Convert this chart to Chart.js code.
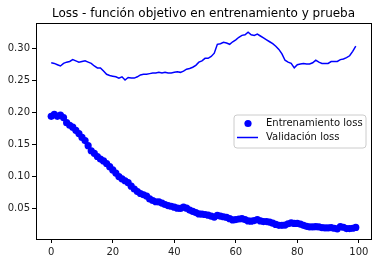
<!DOCTYPE html>
<html>
<head>
<meta charset="utf-8">
<script src="https://cdn.jsdelivr.net/npm/chart.js@4"></script>
<style>
  html, body { margin: 0; padding: 0; background: #fff; }
  #wrap { width: 381px; height: 264px; }
</style>
</head>
<body>
<div id="wrap"><canvas id="chart" width="381" height="264"></canvas></div>
<script>
const epochs = [];
for (let i = 0; i < 100; i++) epochs.push(i);

const trainLoss = [
  0.194, 0.197, 0.194, 0.196, 0.192, 0.184, 0.180, 0.177, 0.172, 0.167,
  0.161, 0.156, 0.148, 0.140, 0.136, 0.131, 0.127, 0.124, 0.120, 0.115,
  0.110, 0.105, 0.0995, 0.096, 0.093, 0.090, 0.0845, 0.080, 0.076, 0.073,
  0.071, 0.069, 0.0645, 0.062, 0.060, 0.0598, 0.058, 0.0557, 0.054, 0.053,
  0.0515, 0.050, 0.0495, 0.0515, 0.050, 0.047, 0.045, 0.043, 0.041, 0.0405,
  0.040, 0.039, 0.0375, 0.036, 0.0385, 0.0375, 0.0365, 0.0355, 0.0335, 0.0315,
  0.032, 0.033, 0.0335, 0.032, 0.030, 0.0295, 0.0305, 0.032, 0.030, 0.029,
  0.029, 0.028, 0.0265, 0.0245, 0.023, 0.023, 0.0235, 0.0255, 0.027, 0.026,
  0.026, 0.025, 0.023, 0.0215, 0.0205, 0.0205, 0.021, 0.0205, 0.0195, 0.019,
  0.019, 0.0195, 0.0185, 0.0175, 0.021, 0.020, 0.018, 0.018, 0.0185, 0.0198
];

const valLoss = [
  0.278, 0.277, 0.275, 0.273, 0.277, 0.279, 0.280, 0.283, 0.281, 0.279,
  0.280, 0.281, 0.279, 0.277, 0.273, 0.270, 0.270, 0.265, 0.260, 0.258,
  0.257, 0.256, 0.254, 0.256, 0.251, 0.255, 0.254, 0.254, 0.256, 0.259,
  0.260, 0.260, 0.261, 0.262, 0.262, 0.263, 0.262, 0.263, 0.262, 0.262,
  0.263, 0.264, 0.263, 0.265, 0.268, 0.269, 0.271, 0.274, 0.279, 0.281,
  0.285, 0.285, 0.288, 0.293, 0.307, 0.308, 0.310, 0.309, 0.307, 0.311,
  0.314, 0.318, 0.321, 0.322, 0.326, 0.322, 0.321, 0.323, 0.320, 0.317,
  0.314, 0.311, 0.308, 0.304, 0.299, 0.292, 0.282, 0.279, 0.277, 0.270,
  0.275, 0.276, 0.277, 0.276, 0.276, 0.278, 0.282, 0.279, 0.277, 0.277,
  0.277, 0.280, 0.280, 0.280, 0.283, 0.284, 0.286, 0.289, 0.296, 0.304
];

const xTicks = [0, 20, 40, 60, 80, 100];
const yTicks = [0.05, 0.10, 0.15, 0.20, 0.25, 0.30];
const title = "Loss - función objetivo en entrenamiento y prueba";

const FONT = "'DejaVu Sans', sans-serif";

// frame, title and legend drawn like matplotlib
const framePlugin = {
  id: "frame",
  afterDraw(chart) {
    const c = chart.ctx;
    const a = chart.chartArea;
    c.save();
    c.strokeStyle = "#000";
    c.lineWidth = 1;
    c.strokeRect(Math.round(a.left) + 0.5, Math.round(a.top) + 0.5,
                 Math.round(a.right - a.left), Math.round(a.bottom - a.top));

    c.fillStyle = "#000";
    c.font = "12px " + FONT;
    c.textAlign = "center";
    c.textBaseline = "middle";
    c.fillText(title, (a.left + a.right) / 2, 13.5);
    c.textAlign = "left";

    // legend
    const lx = 234, ly = 115, lw = 132, lh = 33, r = 3;
    c.beginPath();
    c.moveTo(lx + r, ly);
    c.arcTo(lx + lw, ly, lx + lw, ly + lh, r);
    c.arcTo(lx + lw, ly + lh, lx, ly + lh, r);
    c.arcTo(lx, ly + lh, lx, ly, r);
    c.arcTo(lx, ly, lx + lw, ly, r);
    c.closePath();
    c.fillStyle = "rgba(255,255,255,0.8)";
    c.fill();
    c.strokeStyle = "#cccccc";
    c.stroke();

    const ds = chart.data.datasets;
    c.fillStyle = "blue";
    c.beginPath();
    c.arc(248, 123.5, 3.6, 0, Math.PI * 2);
    c.fill();
    c.strokeStyle = "blue";
    c.lineWidth = 1.5;
    c.beginPath();
    c.moveTo(237, 137.5);
    c.lineTo(258, 137.5);
    c.stroke();

    c.fillStyle = "#111";
    c.font = "10px " + FONT;
    c.fillText(ds[0].label, 266, 123.5);
    c.fillText(ds[1].label, 266, 137.5);
    c.restore();
  }
};

const ctx = document.getElementById("chart");

new Chart(ctx, {
  type: "line",
  data: {
    datasets: [
      {
        label: "Entrenamiento loss",
        data: epochs.map((e, i) => ({ x: e, y: trainLoss[i] })),
        showLine: false,
        pointRadius: 3.6,
        pointBorderWidth: 0,
        pointBackgroundColor: "blue",
        borderColor: "blue"
      },
      {
        label: "Validación loss",
        data: epochs.map((e, i) => ({ x: e, y: valLoss[i] })),
        borderColor: "blue",
        borderWidth: 1.5,
        pointRadius: 0,
        tension: 0,
        fill: false
      }
    ]
  },
  options: {
    responsive: false,
    animation: false,
    layout: { padding: { left: 0, right: 10, top: 23, bottom: 0 } },
    plugins: {
      legend: { display: false },
      tooltip: { enabled: false },
      title: { display: false }
    },
    scales: {
      x: {
        type: "linear",
        min: -4.95,
        max: 103.95,
        afterBuildTicks(s) { s.ticks = xTicks.map(v => ({ value: v })); },
        afterFit(s) { s.height = 25; },
        grid: { drawOnChartArea: false, drawTicks: true, tickLength: 4, color: "#000" },
        border: { display: false },
        ticks: {
          color: "#222",
          padding: 3,
          maxRotation: 0,
          font: { family: FONT, size: 10 },
          callback: v => String(v)
        }
      },
      y: {
        type: "linear",
        min: 0.0016,
        max: 0.3404,
        afterBuildTicks(s) { s.ticks = yTicks.map(v => ({ value: v })); },
        afterFit(s) { s.width = 36; },
        grid: { drawOnChartArea: false, drawTicks: true, tickLength: 4, color: "#000" },
        border: { display: false },
        ticks: {
          color: "#222",
          padding: 2,
          font: { family: FONT, size: 10 },
          callback: v => v.toFixed(2)
        }
      }
    }
  },
  plugins: [framePlugin]
});
</script>
</body>
</html>
